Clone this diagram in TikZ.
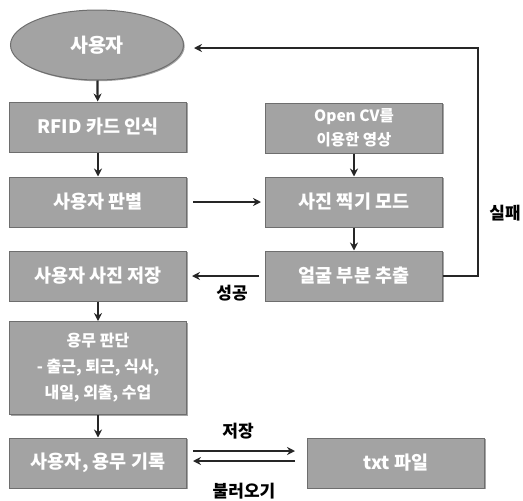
\documentclass[tikz,border=0pt]{standalone}
\usepackage{fontspec}
\setmainfont{Noto Sans CJK KR}
\usetikzlibrary{shapes.geometric,arrows.meta,shadows}
\definecolor{boxfill}{HTML}{A3A3A3}
\definecolor{boxedge}{HTML}{6E6E6E}
\begin{document}
\begin{tikzpicture}[x=1pt,y=-1pt,
  box/.style={draw=boxedge,line width=1pt,fill=boxfill,minimum width=177pt,minimum height=50pt,
    inner sep=2pt,text=white,font=\fontsize{18.5}{20}\selectfont\bfseries,align=center,
    drop shadow={shadow xshift=1.2pt,shadow yshift=-1.2pt,fill=black!70}},
  conn/.style={draw=black!85,line width=2.2pt,-{Stealth[length=8pt,width=8pt]}},
  lbl/.style={font=\fontsize{17}{19}\selectfont\bfseries,text=black}]
\useasboundingbox (0,0) rectangle (523,501);
\node[box,ellipse,minimum width=173pt,minimum height=70pt,font=\fontsize{19.5}{21}\selectfont\bfseries] (user) at (97,45) {사용자};
\node[box] (rfid) at (98,127) {RFID 카드 인식};
\node[box] (judge) at (98,202) {사용자 판별};
\node[box] (save) at (98,276) {사용자 사진 저장};
\node[box,minimum height=93pt,font=\fontsize{16}{26}\selectfont\bfseries] (task) at (98,368) {용무 판단\\- 출근, 퇴근, 식사,\\내일, 외출, 수업};
\node[box] (rec) at (98,463) {사용자, 용무 기록};
\node[box,font=\fontsize{15.5}{24}\selectfont\bfseries] (cv) at (354,128) {Open CV를\\이용한 영상};
\node[box] (photo) at (354,202) {사진 찍기 모드};
\node[box] (face) at (354,276) {얼굴 부분 추출};
\node[box] (txt) at (396,463) {txt 파일};
\coordinate (c1) at (478,276);
\coordinate (c2) at (478,48);
\coordinate (sA) at (193,451);
\coordinate (sB) at (295,451);
\coordinate (lA) at (295,461);
\coordinate (lB) at (193,461);
\draw[conn] (user) -- (rfid);
\draw[conn] (rfid) -- (judge);
\draw[conn] (save) -- (task);
\draw[conn] (task) -- (rec);
\draw[conn] (cv) -- (photo);
\draw[conn] (photo) -- (face);
\draw[conn] (judge.east) ++(6,0) -- ([xshift=-4pt]photo.west);
\draw[conn] (face.west) ++(-6,0) -- ([xshift=5pt]save.east);
\draw[conn] (face.east) -- (c1) -- (c2) -- ([xshift=10pt]user.east |- c2);
\draw[conn] (sA) -- (sB);
\draw[conn] (lA) -- (lB);
\node[lbl] (fail) at (505,213) {실패};
\node[lbl] (succ) at (232,293) {성공};
\node[lbl] (st) at (238,431) {저장};
\node[lbl] (load) at (244,491) {불러오기};
\end{tikzpicture}
\end{document}
